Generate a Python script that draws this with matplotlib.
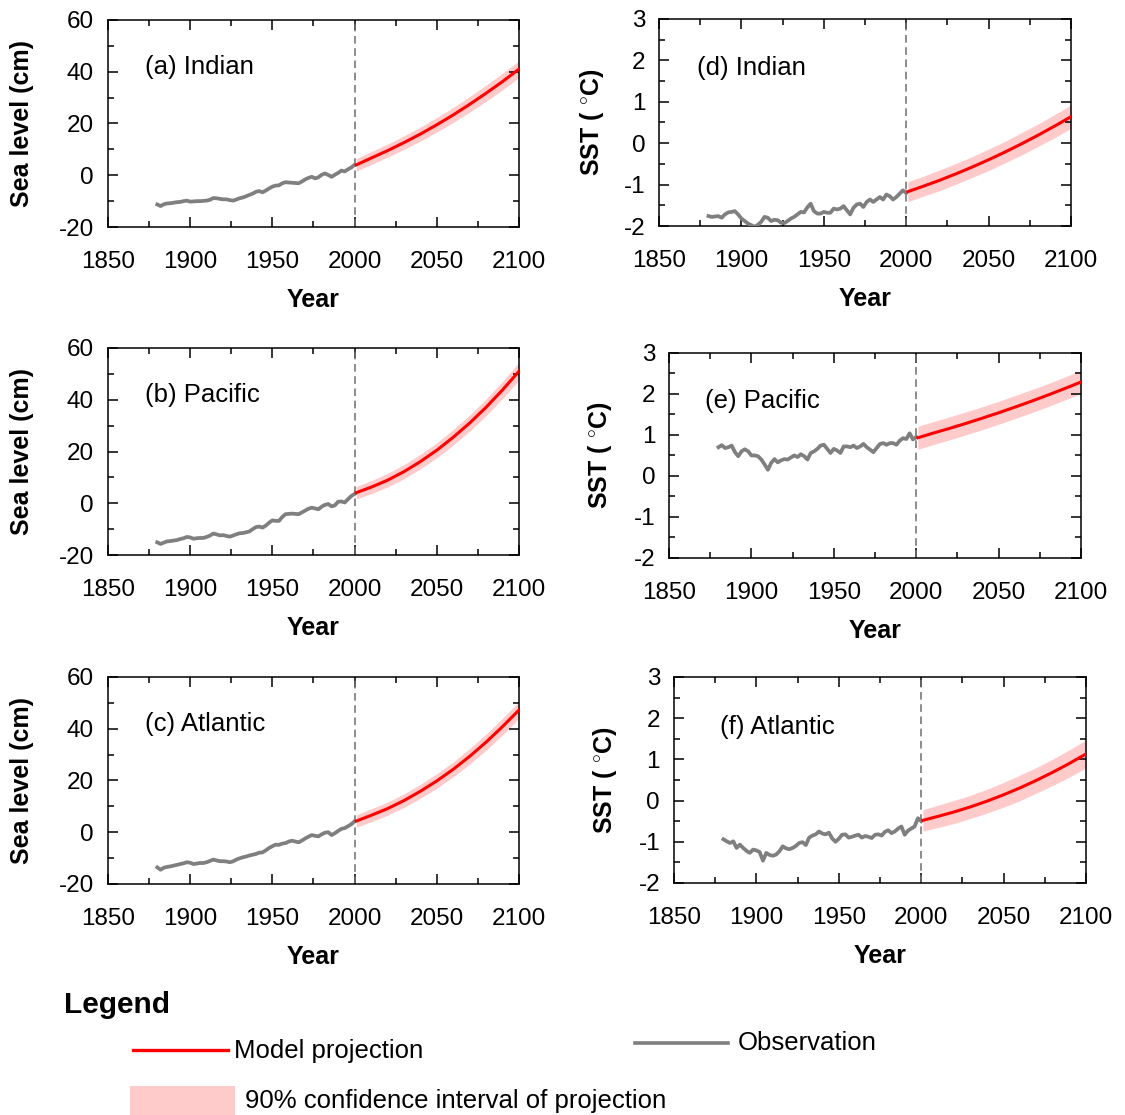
import matplotlib
matplotlib.use('Agg')
import matplotlib.pyplot as plt
import numpy as np
from matplotlib.lines import Line2D
from matplotlib.patches import Rectangle
from matplotlib.ticker import MultipleLocator

plt.rcParams['font.family'] = ['Liberation Sans', 'DejaVu Sans']
plt.rcParams['mathtext.fontset'] = 'custom'
plt.rcParams['mathtext.rm'] = 'Liberation Sans'
plt.rcParams['mathtext.bf'] = 'Liberation Sans:bold'
plt.rcParams['axes.unicode_minus'] = False

# observed record (every 2 years) and projection years
obs_years = np.arange(1880, 2001, 2)
proj_years = [2001, 2010, 2020, 2030, 2040, 2050, 2060, 2070, 2080, 2090, 2100]

# sea level (cm)
sl_obs_indian = [-11.3, -11.9, -11.2, -10.9, -10.8, -10.6, -10.4, -10.3, -10.0, -9.8,
                 -10.2, -10.1, -10.0, -10.0, -9.9, -9.8, -9.5, -8.8, -8.9, -9.1,
                 -9.3, -9.3, -9.6, -9.8, -9.4, -8.9, -8.6, -8.1, -7.6, -7.1,
                 -6.4, -6.1, -6.6, -5.9, -5.1, -4.4, -4.0, -3.9, -3.1, -2.7,
                 -2.8, -2.9, -3.0, -3.1, -2.4, -1.6, -1.0, -0.6, -1.2, -0.8,
                 0.2, 0.7, 0.1, -0.6, 0.2, 0.9, 1.8, 1.5, 2.3, 3.0, 4.0]
sl_obs_pacific = [-15.1, -15.7, -15.2, -14.7, -14.6, -14.4, -14.2, -13.8, -13.5, -13.0,
                  -13.2, -13.7, -13.5, -13.4, -13.4, -13.0, -12.5, -11.7, -12.0, -12.4,
                  -12.3, -12.6, -12.9, -12.5, -12.0, -11.6, -11.5, -11.2, -10.9, -10.0,
                  -9.2, -9.0, -9.4, -8.6, -7.5, -6.6, -6.8, -6.8, -5.3, -4.2,
                  -4.1, -4.0, -4.1, -4.2, -3.5, -2.8, -2.1, -1.7, -2.0, -2.3,
                  -1.3, -0.6, -0.3, -1.2, -0.8, 0.6, 0.7, 0.3, 1.6, 2.8, 3.6]
sl_obs_atlantic = [-13.6, -14.5, -13.7, -13.4, -13.2, -12.9, -12.6, -12.3, -12.0, -11.6,
                   -11.8, -12.3, -12.1, -11.9, -11.9, -11.6, -11.1, -10.6, -10.9, -11.2,
                   -11.2, -11.3, -11.6, -11.3, -10.6, -10.1, -9.7, -9.4, -9.0, -8.7,
                   -8.4, -7.9, -7.8, -7.0, -6.1, -5.4, -4.8, -4.9, -4.4, -4.2,
                   -3.6, -3.3, -3.6, -3.9, -3.2, -2.4, -1.7, -1.1, -1.4, -1.6,
                   -0.8, -0.2, 0.0, -1.1, -0.4, 0.5, 1.3, 1.6, 2.3, 3.1, 4.2]

sl_proj_indian = [4.0, 6.6, 9.5, 12.6, 15.9, 19.5, 23.3, 27.4, 31.7, 36.2, 41.0]
sl_proj_pacific = [4.1, 6.2, 8.9, 12.2, 16.1, 20.5, 25.5, 31.0, 37.1, 43.8, 51.0]
sl_proj_atlantic = [4.3, 6.5, 9.1, 12.2, 15.8, 19.8, 24.3, 29.3, 34.8, 40.8, 47.2]
sl_ci_indian = [2.4, 2.5, 2.5, 2.6, 2.7, 2.8, 2.9, 3.0, 3.1, 3.2, 3.2]
sl_ci_pacific = [2.4, 2.5, 2.6, 2.7, 2.8, 2.9, 3.0, 3.1, 3.2, 3.3, 3.4]
sl_ci_atlantic = [2.4, 2.5, 2.5, 2.6, 2.7, 2.8, 2.9, 3.0, 3.1, 3.2, 3.2]

# sea surface temperature (deg C)
sst_obs_indian = [-1.76, -1.78, -1.77, -1.76, -1.80, -1.72, -1.67, -1.66, -1.64, -1.72,
                  -1.82, -1.88, -1.94, -1.98, -2.02, -1.97, -1.90, -1.78, -1.80, -1.88,
                  -1.85, -1.86, -1.92, -1.93, -1.88, -1.82, -1.78, -1.72, -1.66, -1.67,
                  -1.55, -1.46, -1.64, -1.70, -1.70, -1.66, -1.68, -1.68, -1.58, -1.60,
                  -1.58, -1.52, -1.62, -1.72, -1.56, -1.48, -1.46, -1.54, -1.42, -1.36,
                  -1.42, -1.36, -1.30, -1.36, -1.24, -1.28, -1.36, -1.30, -1.22, -1.14, -1.20]
sst_obs_pacific = [0.70, 0.75, 0.68, 0.70, 0.74, 0.58, 0.48, 0.60, 0.65, 0.60,
                   0.50, 0.50, 0.48, 0.40, 0.28, 0.15, 0.32, 0.41, 0.33, 0.38,
                   0.41, 0.40, 0.45, 0.50, 0.46, 0.53, 0.48, 0.40, 0.56, 0.60,
                   0.66, 0.74, 0.76, 0.66, 0.56, 0.66, 0.62, 0.56, 0.72, 0.72,
                   0.70, 0.74, 0.68, 0.72, 0.78, 0.70, 0.64, 0.58, 0.68, 0.78,
                   0.80, 0.76, 0.80, 0.80, 0.76, 0.86, 0.92, 0.90, 1.04, 0.89, 0.95]
sst_obs_atlantic = [-0.94, -0.99, -1.03, -0.99, -1.15, -1.07, -1.15, -1.22, -1.27, -1.19,
                    -1.21, -1.25, -1.46, -1.27, -1.32, -1.34, -1.31, -1.23, -1.11, -1.16,
                    -1.18, -1.15, -1.10, -1.03, -1.01, -1.08, -0.90, -0.85, -0.82, -0.75,
                    -0.80, -0.82, -0.78, -0.92, -1.00, -0.93, -0.83, -0.82, -0.90, -0.88,
                    -0.85, -0.83, -0.90, -0.86, -0.88, -0.91, -0.83, -0.82, -0.85, -0.76,
                    -0.72, -0.79, -0.75, -0.68, -0.63, -0.83, -0.73, -0.68, -0.63, -0.43, -0.50]

sst_proj_indian = [-1.17, -1.045, -0.90, -0.743, -0.577, -0.40, -0.213, -0.015, 0.193, 0.411, 0.64]
sst_proj_pacific = [0.93, 1.04, 1.157, 1.279, 1.407, 1.54, 1.679, 1.823, 1.973, 2.129, 2.29]
sst_proj_atlantic = [-0.48, -0.386, -0.276, -0.152, -0.014, 0.14, 0.308, 0.492, 0.69, 0.902, 1.13]
sst_ci_indian = [0.24, 0.24, 0.25, 0.25, 0.25, 0.26, 0.26, 0.27, 0.27, 0.28, 0.28]
sst_ci_pacific = [0.28, 0.28, 0.28, 0.28, 0.28, 0.28, 0.28, 0.28, 0.28, 0.28, 0.28]
sst_ci_atlantic = [0.26, 0.27, 0.28, 0.28, 0.29, 0.30, 0.31, 0.31, 0.32, 0.33, 0.34]

panel_titles = ['(a) Indian', '(b) Pacific', '(c) Atlantic',
                '(d) Indian', '(e) Pacific', '(f) Atlantic']

RED = '#ff0000'
PINK = '#ffcaca'
GREY = '#7f7f7f'

fig = plt.figure(figsize=(11.25, 11.15), dpi=100)

# [left, bottom, width, height, text x, text y, ylabel baseline x (fig px)]
layout = [
    [0.096, 0.7964, 0.3653, 0.1857, 0.09, 0.773, 34],
    [0.096, 0.5022, 0.3653, 0.1857, 0.09, 0.773, 34],
    [0.096, 0.2072, 0.3653, 0.1857, 0.09, 0.773, 34],
    [0.5858, 0.7973, 0.3662, 0.1857, 0.092, 0.763, 606],
    [0.5947, 0.4996, 0.3662, 0.1839, 0.087, 0.766, 614],
    [0.5991, 0.2081, 0.3662, 0.1848, 0.112, 0.757, 619],
]

series = [
    (sl_obs_indian, sl_proj_indian, sl_ci_indian),
    (sl_obs_pacific, sl_proj_pacific, sl_ci_pacific),
    (sl_obs_atlantic, sl_proj_atlantic, sl_ci_atlantic),
    (sst_obs_indian, sst_proj_indian, sst_ci_indian),
    (sst_obs_pacific, sst_proj_pacific, sst_ci_pacific),
    (sst_obs_atlantic, sst_proj_atlantic, sst_ci_atlantic),
]

for i, (pos, (obs, proj, ci)) in enumerate(zip(layout, series)):
    ax = fig.add_axes(pos[:4])
    proj = np.array(proj)
    ci = np.array(ci)
    ax.fill_between(proj_years, proj - ci, proj + ci, color=PINK, lw=0, zorder=1)
    ax.plot(obs_years, obs, color=GREY, lw=2.7, zorder=3)
    ax.plot(proj_years, proj, color=RED, lw=2.2, zorder=4)
    ax.axvline(2000, color='#6e6e6e', lw=1.1, dashes=(5, 3), zorder=2)

    ax.set_xlim(1850, 2100)
    ax.xaxis.set_major_locator(MultipleLocator(50))
    ax.xaxis.set_minor_locator(MultipleLocator(25))
    if i < 3:
        ax.set_ylim(-20, 60)
        ax.yaxis.set_major_locator(MultipleLocator(20))
        ax.yaxis.set_minor_locator(MultipleLocator(10))
        ylabel = 'Sea level (cm)'
    else:
        ax.set_ylim(-2, 3)
        ax.yaxis.set_major_locator(MultipleLocator(1))
        ax.yaxis.set_minor_locator(MultipleLocator(0.5))
        ylabel = r'SST ( $^{\circ}$C)'

    ax.tick_params(which='both', direction='in', top=True, right=True,
                   width=1.1, labelsize=17.5)
    ax.tick_params(which='major', length=7)
    ax.tick_params(which='minor', length=4)
    ax.tick_params(axis='x', pad=17.5)
    ax.tick_params(axis='y', pad=10)
    for sp in ax.spines.values():
        sp.set_linewidth(1.1)

    ax.set_xlabel('Year', fontsize=18, fontweight='bold', labelpad=10.5)
    ax.set_ylabel(ylabel, fontsize=18, fontweight='bold')
    # y label baseline at a fixed figure x position
    px = pos[6] / 1125.0
    ax.yaxis.set_label_coords((px - pos[0]) / pos[2], 0.5)

    ax.text(pos[4], pos[5], panel_titles[i], transform=ax.transAxes,
            fontsize=18.5, va='center', ha='left')

# legend block drawn in figure pixels
H = 1115.0
W = 1125.0
fig.text(64 / W, 1 - 1005 / H, 'Legend', fontsize=21.5, fontweight='bold',
         va='center', ha='left')
fig.add_artist(Line2D([133 / W, 228 / W], [1 - 1050 / H] * 2, color=RED, lw=2.4))
fig.text(234 / W, 1 - 1051 / H, 'Model projection', fontsize=18.5, va='center', ha='left')
fig.add_artist(Line2D([635 / W, 728 / W], [1 - 1043 / H] * 2, color=GREY, lw=2.6))
fig.text(738 / W, 1 - 1043 / H, 'Observation', fontsize=18.5, va='center', ha='left')
fig.add_artist(Rectangle((130 / W, 0), 105 / W, 29 / H, transform=fig.transFigure,
                         color=PINK, lw=0))
fig.text(245 / W, 1 - 1101 / H, '90% confidence interval of projection', fontsize=18.5,
         va='center', ha='left')

fig.savefig('out.png', dpi=100)
plt.close(fig)
